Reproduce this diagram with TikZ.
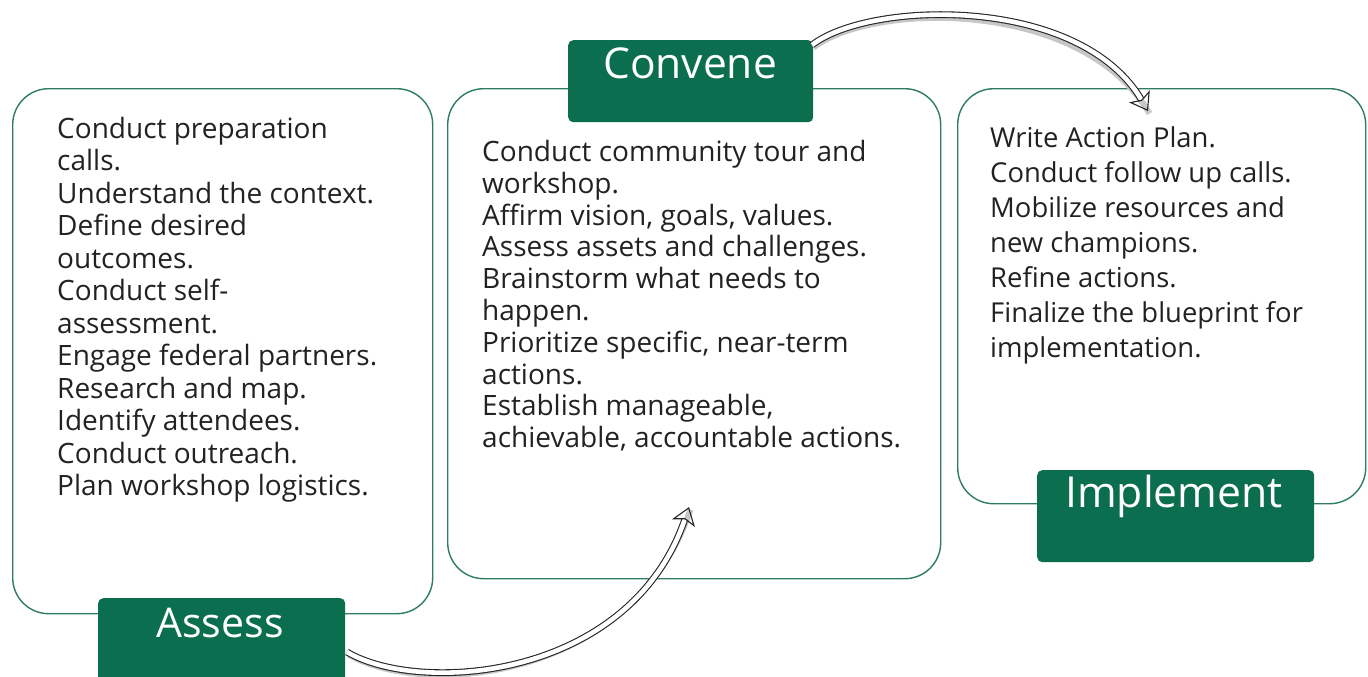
\documentclass[tikz,border=0pt]{standalone}
\usepackage{fontspec}
\setmainfont{Open Sans}
\usetikzlibrary{arrows.meta}
\definecolor{dkgreen}{HTML}{0B6E4F}
\definecolor{boxline}{HTML}{2E7D5E}
\definecolor{txt}{HTML}{222222}
\tikzset{
  panel/.style={draw=boxline, line width=1.4pt, rounded corners=36pt, fill=white, inner sep=0pt},
  tag/.style={fill=dkgreen, rounded corners=5pt, inner sep=0pt, text=white, anchor=north west},
  body/.style={anchor=north west, align=left, inner sep=0pt, text=txt,
    font=\fontsize{28}{32.5}\selectfont},
  hollow/.style={line width=1.1pt, draw=black!85, double=white, double distance=4.6pt,
    -{Stealth[open, length=17pt, width=24pt, inset=4pt, line width=1.1pt]},
    preaction={draw=black!22, line width=6pt, transform canvas={shift={(1.5pt,-2.5pt)}}, -{}}}
}
\begin{document}
\begin{tikzpicture}[x=1pt,y=-1pt]
\useasboundingbox (0,0) rectangle (1368,677);
% panels
\node[panel, minimum width=420pt, minimum height=525pt, anchor=north west] (p1) at (12,88) {};
\node[panel, minimum width=493pt, minimum height=490pt, anchor=north west] (p2) at (447,88) {};
\node[panel, minimum width=408pt, minimum height=415pt, anchor=north west] (p3) at (957,88) {};
% body texts
\node[body] (t1) at (57,117) {Conduct preparation\\calls.\\Understand the context.\\Define desired\\outcomes.\\Conduct self-\\assessment.\\Engage federal partners.\\Research and map.\\Identify attendees.\\Conduct outreach.\\Plan workshop logistics.};
\node[body, font=\fontsize{28}{31.8}\selectfont] (t2) at (482,140) {Conduct community tour and\\workshop.\\Affirm vision, goals, values.\\Assess assets and challenges.\\Brainstorm what needs to\\happen.\\Prioritize specific, near-term\\actions.\\Establish manageable,\\achievable, accountable actions.};
\node[body, font=\fontsize{27.4}{35}\selectfont] (t3) at (990,126) {Write Action Plan.\\Conduct follow up calls.\\Mobilize resources and\\new champions.\\Refine actions.\\Finalize the blueprint for\\implementation.};
% tags
\node[tag, minimum width=247pt, minimum height=90pt] (assess) at (98,598) {};
\node[text=white, font=\fontsize{41}{44}\selectfont] (assessT) at (220,623) {Assess};
\node[tag, minimum width=245pt, minimum height=82pt] (convene) at (568,40) {};
\node[text=white, font=\fontsize{42.5}{46}\selectfont] (conveneT) at (690,63) {Convene};
\node[tag, minimum width=277pt, minimum height=92pt] (implement) at (1037,470) {};
\node[text=white, font=\fontsize{42.7}{46}\selectfont] (implementT) at (1174,496) {Implement};
% arrows
\coordinate (a1) at (347,652);
\coordinate (h1) at (689,507);
\coordinate (a2) at (812,45);
\coordinate (h2) at (1148,111);
\draw[hollow] (a1) .. controls (420,695) and (630,680) .. (h1);
\draw[hollow] (a2) .. controls (870,0) and (1080,-5) .. (h2);
\end{tikzpicture}
\end{document}
